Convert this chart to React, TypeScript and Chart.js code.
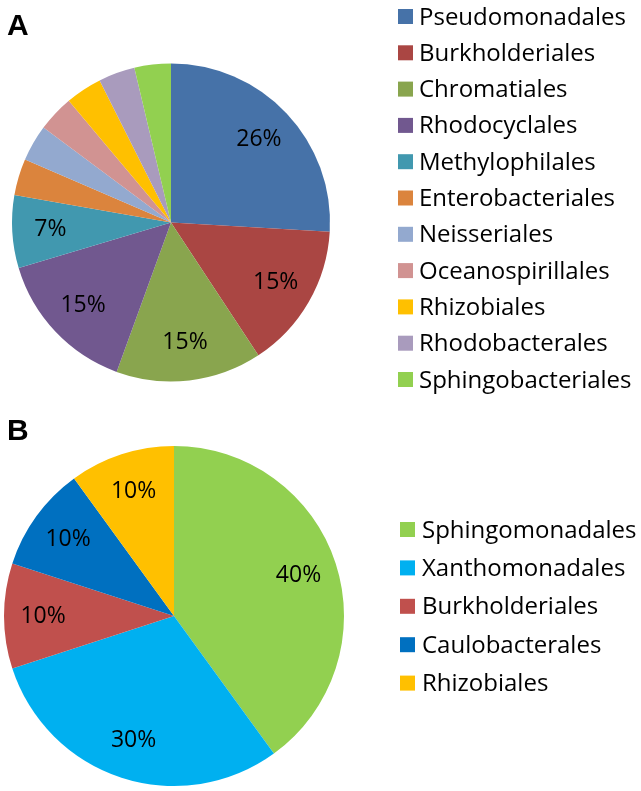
import React, { useEffect, useRef } from "react";
import { Chart, registerables } from "chart.js";
Chart.register(...registerables);

const labelsA = [
  "Pseudomonadales",
  "Burkholderiales",
  "Chromatiales",
  "Rhodocyclales",
  "Methylophilales",
  "Enterobacteriales",
  "Neisseriales",
  "Oceanospirillales",
  "Rhizobiales",
  "Rhodobacterales",
  "Sphingobacteriales",
];
const valuesA = [7, 4, 4, 4, 2, 1, 1, 1, 1, 1, 1];
const colorsA = [
  "#4672A8",
  "#AA4643",
  "#89A54E",
  "#71588F",
  "#4198AF",
  "#DB843D",
  "#93A9CF",
  "#D19392",
  "#FFC000",
  "#A99BBD",
  "#92D050",
];

const labelsB = [
  "Sphingomonadales",
  "Xanthomonadales",
  "Burkholderiales",
  "Caulobacterales",
  "Rhizobiales",
];
const valuesB = [4, 3, 1, 1, 1];
const colorsB = ["#92D050", "#00B0F0", "#C0504D", "#0070C0", "#FFC000"];

const FONT = '"Open Sans", "DejaVu Sans", sans-serif';

type PanelOpts = {
  letter: string;
  letterY: number;
  legendSquareTop: number;
  legendSpacing: number;
  squareX: number;
  textX: number;
  labelFrac: number;
};

function makePlugin(o: PanelOpts) {
  return {
    id: "panelDecor",
    afterDraw(chart: any) {
      const ctx = chart.ctx as CanvasRenderingContext2D;
      const ds = chart.data.datasets[0];
      const data = ds.data as number[];
      const total = data.reduce((a, b) => a + b, 0);
      const meta = chart.getDatasetMeta(0);
      ctx.save();
      // percentage labels
      ctx.fillStyle = "#000";
      ctx.font = `23px ${FONT}`;
      ctx.textAlign = "center";
      ctx.textBaseline = "middle";
      meta.data.forEach((arc: any, i: number) => {
        const pct = Math.round((data[i] / total) * 100);
        if (pct < 5) return;
        const p = arc.getProps(["x", "y", "startAngle", "endAngle", "outerRadius"], true);
        const mid = (p.startAngle + p.endAngle) / 2;
        const r = p.outerRadius * o.labelFrac;
        ctx.fillText(pct + "%", p.x + Math.cos(mid) * r, p.y + Math.sin(mid) * r);
      });
      // legend
      ctx.textAlign = "left";
      ctx.textBaseline = "alphabetic";
      ctx.font = `24px ${FONT}`;
      (chart.data.labels as string[]).forEach((lab, i) => {
        const top = o.legendSquareTop + i * o.legendSpacing;
        ctx.fillStyle = (ds.backgroundColor as string[])[i];
        ctx.fillRect(o.squareX, top, 15, 15);
        ctx.fillStyle = "#000";
        ctx.fillText(lab, o.textX, top + 15.5);
      });
      // panel letter
      ctx.font = `bold 30px "Liberation Sans", Arial, sans-serif`;
      ctx.fillStyle = "#000";
      ctx.fillText(o.letter, 7, o.letterY);
      ctx.restore();
    },
  };
}

function PiePanel(props: {
  labels: string[];
  values: number[];
  colors: string[];
  width: number;
  height: number;
  top: number;
  padding: { left: number; right: number; top: number; bottom: number };
  opts: PanelOpts;
}) {
  const ref = useRef<HTMLCanvasElement>(null);
  useEffect(() => {
    if (!ref.current) return;
    const chart = new Chart(ref.current, {
      type: "pie",
      data: {
        labels: props.labels,
        datasets: [
          {
            data: props.values,
            backgroundColor: props.colors,
            borderWidth: 0,
          },
        ],
      },
      options: {
        responsive: false,
        animation: false,
        devicePixelRatio: 1,
        layout: { padding: props.padding },
        plugins: {
          legend: { display: false },
          tooltip: { enabled: false },
        },
      },
      plugins: [makePlugin(props.opts)],
    });
    return () => chart.destroy();
  }, []);
  return (
    <canvas
      ref={ref}
      width={props.width}
      height={props.height}
      style={{
        position: "absolute",
        left: 0,
        top: props.top,
        width: props.width,
        height: props.height,
      }}
    />
  );
}

export default function App() {
  return (
    <div
      style={{
        position: "fixed",
        left: 0,
        top: 0,
        width: 641,
        height: 791,
        background: "#fff",
        overflow: "hidden",
      }}
    >
      <PiePanel
        labels={labelsA}
        values={valuesA}
        colors={colorsA}
        width={641}
        height={400}
        top={0}
        padding={{ left: 12, right: 641 - 330, top: 63.5, bottom: 400 - 381.5 }}
        opts={{
          letter: "A",
          letterY: 35,
          legendSquareTop: 9,
          legendSpacing: 36.3,
          squareX: 398,
          textX: 419,
          labelFrac: 0.76,
        }}
      />
      <PiePanel
        labels={labelsB}
        values={valuesB}
        colors={colorsB}
        width={641}
        height={391}
        top={400}
        padding={{ left: 4, right: 641 - 344, top: 46, bottom: 391 - 386 }}
        opts={{
          letter: "B",
          letterY: 40,
          legendSquareTop: 122,
          legendSpacing: 38.4,
          squareX: 400,
          textX: 422,
          labelFrac: 0.77,
        }}
      />
    </div>
  );
}
